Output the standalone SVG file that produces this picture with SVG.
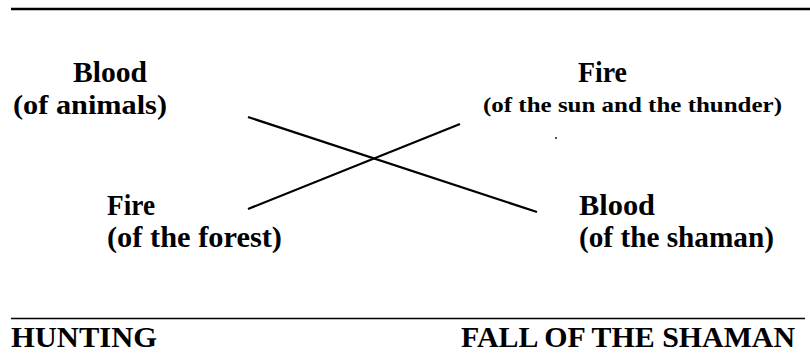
<svg xmlns="http://www.w3.org/2000/svg" width="810" height="353" viewBox="0 0 810 353">
<style>
.t{font-family:"Liberation Serif","Times New Roman",serif;font-weight:bold;fill:#000;font-size:29px}
.s{font-size:22px}
.c{stroke:#000;stroke-width:2.2;fill:none}
</style>
<rect width="810" height="353" fill="#fff"/>
<line stroke="#000" stroke-width="2.6" x1="11" y1="9" x2="810" y2="9"/>
<g id="blood-animals"><text class="t" x="73" y="82" textLength="74" lengthAdjust="spacingAndGlyphs">Blood</text><text class="t" x="13" y="114" font-size="28" textLength="154" lengthAdjust="spacingAndGlyphs" style="font-size:28px">(of animals)</text></g>
<g id="fire-sun"><text class="t" x="578" y="82" textLength="49" lengthAdjust="spacingAndGlyphs">Fire</text><text class="t s" x="483" y="112" textLength="299" lengthAdjust="spacingAndGlyphs">(of the sun and the thunder)</text></g>
<g id="fire-forest"><text class="t" x="107" y="215" textLength="48" lengthAdjust="spacingAndGlyphs">Fire</text><text class="t" x="107" y="247" textLength="175" lengthAdjust="spacingAndGlyphs">(of the forest)</text></g>
<g id="blood-shaman"><text class="t" x="579" y="215" textLength="76" lengthAdjust="spacingAndGlyphs">Blood</text><text class="t" x="579" y="247" textLength="195" lengthAdjust="spacingAndGlyphs">(of the shaman)</text></g>
<g id="connectors"><line class="c" x1="248" y1="117" x2="537" y2="212"/><line class="c" x1="248" y1="209" x2="460" y2="124"/></g>
<circle cx="556" cy="138" r="0.9" fill="#000"/>
<line stroke="#000" stroke-width="1.6" x1="11" y1="318.5" x2="805" y2="318.5"/>
<g id="footer"><text class="t" x="11" y="347" textLength="146" lengthAdjust="spacingAndGlyphs" style="font-size:30px">HUNTING</text><text class="t" x="461" y="347" textLength="334" lengthAdjust="spacingAndGlyphs" style="font-size:30px">FALL OF THE SHAMAN</text></g>
</svg>
